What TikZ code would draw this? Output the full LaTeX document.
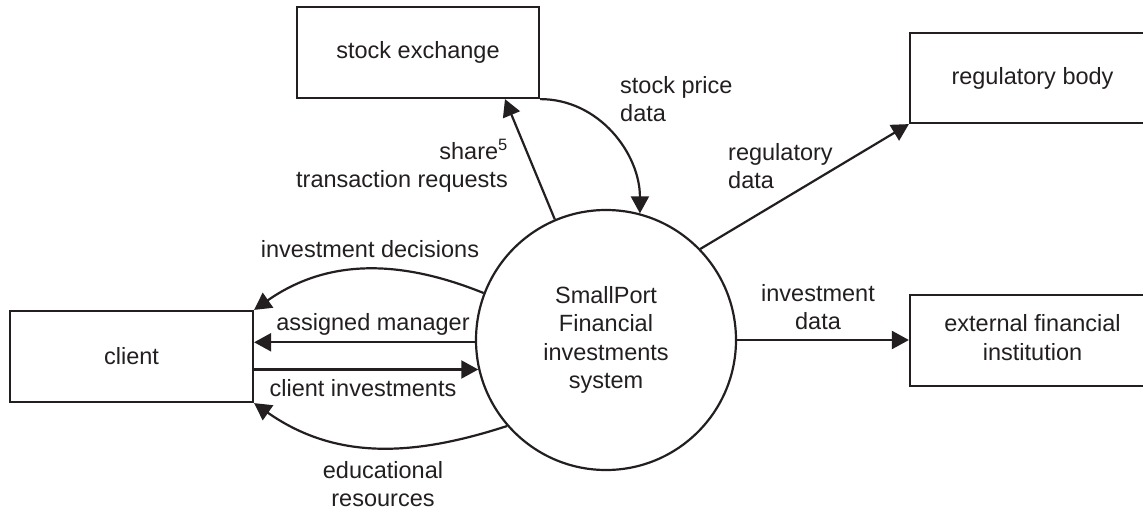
\documentclass[tikz,border=0pt]{standalone}
\usepackage{fontspec}
\setmainfont{Liberation Sans}
\usetikzlibrary{arrows.meta,calc}
\definecolor{ink}{HTML}{231F20}
\begin{document}
\begin{tikzpicture}[x=1pt,y=-1pt,
  every node/.style={text=ink,font=\fontsize{23.5}{28.5}\selectfont},
  entity/.style={draw=ink,line width=2.2pt,minimum height=91pt,inner sep=0pt},
  proc/.style={draw=ink,line width=2.2pt,circle,minimum size=260pt,inner sep=0pt,align=center},
  lab/.style={inner sep=0pt},
  flow/.style={draw=ink,line width=2.2pt,-{Triangle[length=17pt,width=18pt]}}]
\useasboundingbox (0,0) rectangle (1143,511);
\fill[white] (0,0) rectangle (1143,511);
% entities
\node[entity,minimum width=242pt] (stock) at (418,52.5) {stock exchange};
\node[entity,minimum width=245pt,minimum height=90pt] (reg) at (1032.5,78) {regulatory body};
\node[entity,minimum width=245pt] (ext) at (1032.5,340.5) {\begin{tabular}{@{}c@{}}external financial\\institution\end{tabular}};
\node[entity,minimum width=243pt] (client) at (131.5,356.5) {client};
\node[proc] (sys) at (606,340) {SmallPort\\Financial\\investments\\system};
% flows
\draw[flow] (sys.113) -- ([xshift=87pt]stock.south);
\draw[flow] (stock.south east) to[out=0,in=90] (sys.75.5);
\draw[flow] (sys.44) -- (reg.south west);
\draw[flow] (sys.159) to[out=158,in=35] (client.north east);
\draw[flow] (sys.181) -- (sys.181 -| client.east);
\draw[flow] (sys.193.3 -| client.east) -- (sys.193.3);
\draw[flow] (sys.221) to[out=198,in=-35] (client.south east);
\draw[flow] (sys.east) -- (sys.east -| ext.west);
% labels
\node[lab,align=right,anchor=east] (l1) at (508,166) {share\textsuperscript{5}\\transaction requests};
\node[lab,align=left,anchor=west] (l2) at (620,99) {stock price\\data};
\node[lab,align=left,anchor=west] (l3) at (728,166) {regulatory\\data};
\node[lab] (l4) at (370,249) {investment decisions};
\node[lab] (l5) at (373,324) {assigned manager};
\node[lab] (l6) at (363,388) {client investments};
\node[lab,align=center] (l7) at (383,484) {educational\\resources};
\node[lab,align=center] (l8) at (818,307) {investment\\data};
\end{tikzpicture}
\end{document}
